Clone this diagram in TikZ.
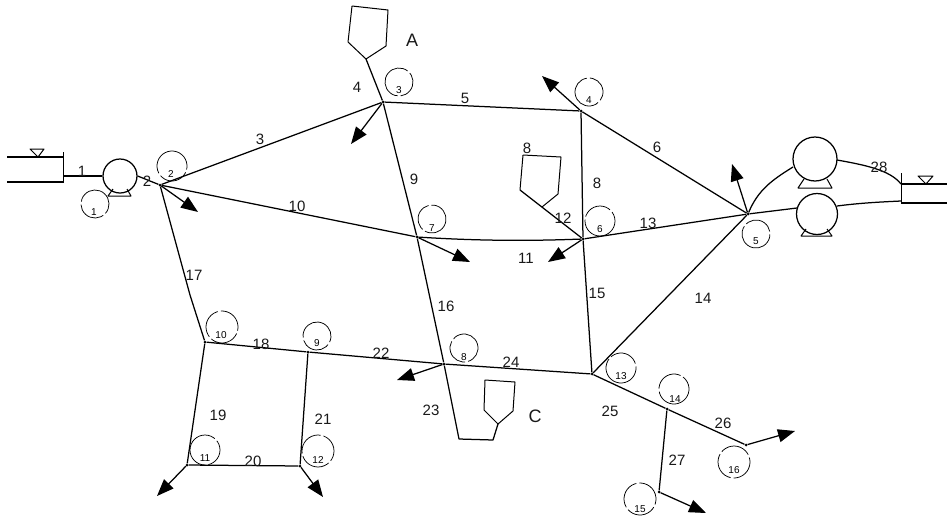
\documentclass[tikz,border=0pt]{standalone}
\usepackage{fontspec}
\setmainfont{Liberation Sans}
\usetikzlibrary{arrows.meta}
\tikzset{
  pipe/.style={draw=black,line width=1.25pt,line join=round},
  outflow/.style={pipe,-{Triangle[length=17pt,width=13pt]}},
  thinline/.style={draw=black,line width=1pt,line join=round},
  lab/.style={font=\fontsize{15}{15}\selectfont,inner sep=0pt,text=black!90},
  tag/.style={font=\fontsize{10}{10}\selectfont,inner sep=0pt,text=black},
  ring/.style={draw=black,line width=0.75pt,dash pattern=on 30pt off 3pt,fill=none},
  junction/.style={circle,fill=black,inner sep=0pt,minimum size=3pt},
}
\begin{document}
\begin{tikzpicture}[x=1pt,y=-1pt]
\useasboundingbox (0,0) rectangle (947,517);
\fill[white] (0,0) rectangle (947,517);
% junctions
\node[junction] (J2) at (160,185) {};
\node[junction] (J3) at (383,102) {};
\node[junction] (J4) at (581,111) {};
\node[junction] (J5) at (748,214) {};
\node[junction] (J6) at (583,239) {};
\node[junction] (J7) at (417,237) {};
\node[junction] (J8) at (444,364) {};
\node[junction] (J9) at (308,352) {};
\node[junction] (J10) at (205,342) {};
\node[junction] (J11) at (187,465) {};
\node[junction] (J12) at (300,466) {};
\node[junction] (J13) at (592,374) {};
\node[junction] (J14) at (667,409) {};
\node[junction] (J15) at (659,492) {};
\node[junction] (J16) at (746,445) {};
% free ends
\coordinate (A2) at (198,212);
\coordinate (A3) at (351,144);
\coordinate (A7) at (470,262);
\coordinate (A4) at (542,76);
\coordinate (A5) at (732,164);
\coordinate (A6) at (548,262);
\coordinate (A8) at (397,380);
\coordinate (A11) at (157,496);
\coordinate (A12) at (323,497);
\coordinate (A15) at (706,513);
\coordinate (A16) at (795,431);
% left tank
\draw[pipe] (7,157) -- (63,157);
\draw[pipe] (7,182) -- (63,182);
\coordinate (TL) at (63,176);
\draw[thinline] (63,152) -- (63,183);
\draw[thinline] (30,149) -- (44,149) -- (38,157) -- cycle;
% left pump
\node[circle,draw=black,line width=1.25pt,minimum size=34pt,inner sep=0pt] (P1) at (120,176) {};
\draw[pipe] (TL) -- (P1.west);
\draw[thinline] (113,189) -- (108,196) -- (131,196) -- (127,189);
\draw[pipe] (P1.east) -- (J2);
% reservoir A
\coordinate (RA) at (366,59);
\draw[thinline] (352,6) -- (388,10) -- (386,46) -- (RA) -- (348,42) -- cycle;
\draw[pipe] (RA) -- (J3);
\draw[pipe] (J3) -- (J7);
\draw[pipe] (J7) -- (J8);
% reservoir B
\coordinate (RB) at (520,190);
\coordinate (RBm) at (542,207);
\draw[thinline] (523,155) -- (561,157) -- (558,194) -- (RBm);
\draw[thinline] (523,155) -- (RB);
\draw[pipe] (RB) -- (J6);
% reservoir C
\coordinate (RC) at (498,424);
\draw[thinline] (485,380) -- (515,382) -- (513,411) -- (RC) -- (484,410) -- cycle;
\coordinate (RCa) at (459,439);
\coordinate (RCb) at (493,440);
\draw[pipe] (J8) -- (RCa) -- (RCb) -- (RC);
% main pipes
\draw[pipe] (J2) -- (J3);
\draw[pipe] (J3) -- (J4);
\draw[pipe] (J4) -- (J5);
\draw[pipe] (J2) -- (J7);
\draw[pipe] (J7) .. controls (480,241) and (530,241) .. (J6);
\draw[pipe] (J4) -- (J6);
\draw[pipe] (J6) -- (J5);
\draw[pipe] (J6) -- (J13);
\draw[pipe] (J5) -- (J13);
\draw[pipe] (J2) -- (190,295) -- (J10);
\draw[pipe] (J10) -- (J9);
\draw[pipe] (J9) -- (J8);
\draw[pipe] (J8) -- (J13);
\draw[pipe] (J10) -- (J11);
\draw[pipe] (J11) -- (J12);
\draw[pipe] (J9) -- (J12);
\draw[pipe] (J13) -- (J14);
\draw[pipe] (J14) -- (J16);
\draw[pipe] (J14) -- (J15);
% outflows
\draw[outflow] (J2) -- (A2);
\draw[outflow] (J3) -- (A3);
\draw[outflow] (J7) -- (A7);
\draw[outflow] (J4) -- (A4);
\draw[outflow] (J5) -- (A5);
\draw[outflow] (J6) -- (A6);
\draw[outflow] (J8) -- (A8);
\draw[outflow] (J11) -- (A11);
\draw[outflow] (J12) -- (A12);
\draw[outflow] (J15) -- (A15);
\draw[outflow] (J16) -- (A16);
% right pumps
\node[circle,draw=black,line width=1.25pt,minimum size=44pt,inner sep=0pt] (P2) at (815,159) {};
\node[circle,draw=black,line width=1.25pt,minimum size=41pt,inner sep=0pt] (P3) at (817,214) {};
\draw[thinline] (804,179) -- (798,188) -- (832,188) -- (827,179);
\draw[thinline] (806,229) -- (801,236) -- (832,236) -- (827,229);
\coordinate (TRa) at (901,184);
\coordinate (TRb) at (901,201);
\draw[pipe] (J5) .. controls (758,190) and (772,180) .. (793,167);
\draw[pipe] (J5) -- (797,208);
\draw[pipe] (837,160) .. controls (865,165) and (890,170) .. (TRa);
\draw[pipe] (837,206) .. controls (860,203) and (880,202) .. (TRb);
% right tank
\draw[thinline] (901,173) -- (901,203);
\draw[pipe] (TRa) -- (947,184);
\draw[pipe] (901,203) -- (947,203);
\draw[thinline] (918,176) -- (933,176) -- (926,184) -- cycle;
% rings and node numbers
\foreach \i/\cx/\cy/\r/\lx/\ly in {
 1/95/204/14/94/212, 2/172/166/15/171/174, 3/399/82/14/399/90,
 4/589/92/14/589/100, 5/756/234/14/756/241, 6/600/221/15/600/229,
 7/432/219/14/432/228, 8/464/348/14/464/357, 9/317/336/14/317/343,
 10/222/327/16/221/335, 11/205/450/15/205/458, 12/318/451/16/318/460,
 13/621/368/15/621/376, 14/674/389/15/675/399, 15/640/499/16/640/509,
 16/734/462/16/734/470}{
  \node[ring,circle,minimum size=2*\r pt,inner sep=0pt,rotate=\i*47] (c\i) at (\cx,\cy) {};
  \node[tag] (t\i) at (\lx,\ly) {\i};
}
% pipe numbers
\node[lab] (l1) at (82,171) {1};
\node[lab] (l2) at (147,181) {2};
\node[lab] (l3) at (260,139) {3};
\node[lab] (l4) at (357,87) {4};
\node[lab] (l5) at (465,98) {5};
\node[lab] (l6) at (657,147) {6};
\node[lab] (l8a) at (527,148) {8};
\node[lab] (l8) at (597,183) {8};
\node[lab] (l9) at (414,179) {9};
\node[lab] (l10) at (297,206) {10};
\node[lab] (l11) at (526,258) {11};
\node[lab] (l12) at (563,218) {12};
\node[lab] (l13) at (648,223) {13};
\node[lab] (l14) at (703,298) {14};
\node[lab] (l15) at (597,293) {15};
\node[lab] (l16) at (446,306) {16};
\node[lab] (l17) at (194,275) {17};
\node[lab] (l18) at (261,344) {18};
\node[lab] (l19) at (218,415) {19};
\node[lab] (l20) at (253,461) {20};
\node[lab] (l21) at (323,419) {21};
\node[lab] (l22) at (381,353) {22};
\node[lab] (l23) at (431,410) {23};
\node[lab] (l24) at (511,362) {24};
\node[lab] (l25) at (610,411) {25};
\node[lab] (l26) at (723,423) {26};
\node[lab] (l27) at (677,460) {27};
\node[lab] (l28) at (879,167) {28};
\node[lab,font=\fontsize{18}{18}\selectfont] (lA) at (412,40) {A};
\node[lab,font=\fontsize{18}{18}\selectfont] (lC) at (535,416) {C};
\end{tikzpicture}
\end{document}
